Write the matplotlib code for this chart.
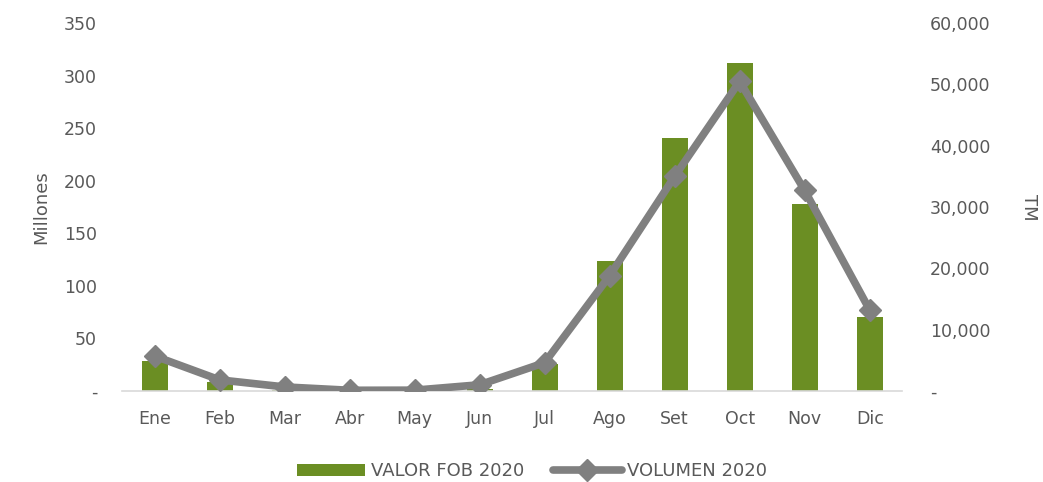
import matplotlib.pyplot as plt
from matplotlib.ticker import FuncFormatter

meses = ["Ene", "Feb", "Mar", "Abr", "May", "Jun", "Jul", "Ago", "Set", "Oct", "Nov", "Dic"]
valor_fob = [28, 8, 0.5, 0.2, 0.3, 1.5, 26, 124, 241, 312, 178, 70]          # millones
volumen = [5700, 1800, 650, 100, 120, 1000, 4600, 18800, 35000, 50500, 32700, 13200]  # TM

GREEN = "#6b8e23"
GREY = "#808080"
TXT = "#595959"

plt.rcParams["font.family"] = ["DejaVu Sans"]

fig = plt.figure(figsize=(10.43, 4.82), dpi=100)
ax1 = fig.add_axes([0.117, 0.189, 0.748, 0.763])
ax2 = ax1.twinx()

x = list(range(len(meses)))
ax1.bar(x, valor_fob, width=0.4, color=GREEN, label="VALOR FOB 2020", zorder=2)
ax2.plot(x, volumen, color=GREY, linewidth=5.5, marker="D", markersize=11,
         label="VOLUMEN 2020", zorder=3, solid_capstyle="round")

ax1.set_xlim(-0.5, len(meses) - 0.5)
ax1.set_ylim(0, 350)
ax2.set_ylim(0, 60000)
ax1.set_yticks(range(0, 351, 50))
ax2.set_yticks(range(0, 60001, 10000))
ax1.yaxis.set_major_formatter(FuncFormatter(lambda v, p: "-" if v == 0 else f"{v:.0f}"))
ax2.yaxis.set_major_formatter(FuncFormatter(lambda v, p: "-" if v == 0 else f"{v:,.0f}"))
ax1.set_xticks(x)
ax1.set_xticklabels(meses)

for ax in (ax1, ax2):
    for s in ("top", "left", "right", "bottom"):
        ax.spines[s].set_visible(False)
    ax.tick_params(length=0, labelsize=12.5, colors=TXT)
ax1.spines["bottom"].set_visible(True)
ax1.spines["bottom"].set_color("#d9d9d9")
ax1.spines["bottom"].set_linewidth(1.2)
ax1.tick_params(axis="y", pad=18)
ax1.tick_params(axis="x", pad=14)
ax2.tick_params(axis="y", pad=20)

ax1.set_ylabel("Millones", fontsize=13, color=TXT, labelpad=10)
ax2.set_ylabel("TM", fontsize=13, color=TXT, rotation=270, labelpad=34)

h1, l1 = ax1.get_legend_handles_labels()
h2, l2 = ax2.get_legend_handles_labels()
fig.legend(h1 + h2, l1 + l2, loc="lower center", bbox_to_anchor=(0.51, -0.03),
           ncol=2, frameon=False, fontsize=13, labelcolor=TXT,
           handlelength=3.8, columnspacing=1.6, handletextpad=0.3)

fig.savefig("out.png", dpi=100)
